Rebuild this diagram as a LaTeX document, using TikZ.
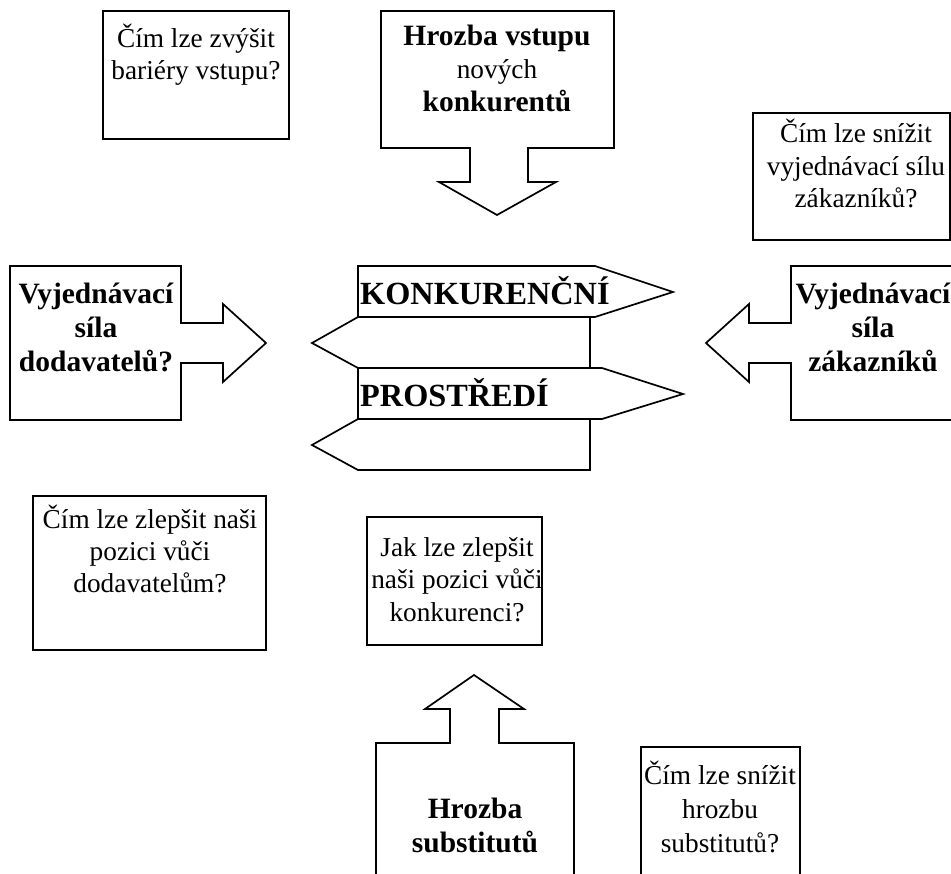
\documentclass[tikz,border=0pt]{standalone}
\usepackage{fontspec}
\setmainfont{Liberation Serif}
\usepackage{tikz}

\begin{document}
\begin{tikzpicture}[x=1pt,y=-1pt,
  box/.style={draw, line width=1.7pt, line join=miter},
  txt/.style={font=\fontsize{27.3}{32.5}\selectfont, align=center, inner sep=0pt, anchor=base},
  btxt/.style={font=\fontsize{29.5}{34}\selectfont\bfseries, align=center, inner sep=0pt, anchor=base},
  sign/.style={font=\fontsize{32.3}{37}\selectfont\bfseries, inner sep=0pt, anchor=base west}]
\useasboundingbox (0,0) rectangle (951,874);
\clip (0,0) rectangle (951,874);

% top row
\draw[box] (103,11) rectangle (289,139);
\node[txt] (bariery) at (196,80) {Čím lze zvýšit\\bariéry vstupu?};
\draw[box] (381,11) -- (614,11) -- (614,148) -- (528,148) -- (528,182) -- (556,182)
  -- (497,215) -- (439,182) -- (470,182) -- (470,148) -- (381,148) -- cycle;
\node[btxt, font=\fontsize{29.5}{33}\selectfont\bfseries] (vstup) at (497,112)
  {Hrozba vstupu\\{\mdseries\fontsize{27.3}{33}\selectfont nových}\\konkurentů};
\draw[box] (753,113) rectangle (950,240);
\node[txt] (zakaznici) at (856,208) {Čím lze snížit\\vyjednávací sílu\\zákazníků?};

% middle row
\draw[box] (10,266) -- (181,266) -- (181,323) -- (223,323) -- (223,304) -- (266,343)
  -- (223,382) -- (223,363) -- (181,363) -- (181,420) -- (10,420) -- cycle;
\node[btxt] (dodavatele) at (96,372) {Vyjednávací\\síla\\dodavatelů?};
\draw[box] (960,266) -- (791,266) -- (791,323) -- (749,323) -- (749,304) -- (706,343)
  -- (749,382) -- (749,363) -- (791,363) -- (791,420) -- (960,420);
\node[btxt] (odberatele) at (873,372) {Vyjednávací\\síla\\zákazníků};

% signpost
\draw[box] (358,266) -- (595,266) -- (673,292) -- (595,317) -- (358,317) -- cycle;
\draw[box] (358,317) -- (312,343) -- (358,368) -- (590,368) -- (590,317);
\draw[box] (358,368) -- (602,368) -- (683,394) -- (602,419) -- (358,419) -- cycle;
\draw[box] (358,419) -- (312,445) -- (358,470) -- (590,470) -- (590,419);
\node[sign] (konk) at (360,305) {KONKURENČNÍ};
\node[sign] (prost) at (360,407) {PROSTŘEDÍ};

% lower row
\draw[box] (33,496) rectangle (266,650);
\node[txt, font=\fontsize{27.3}{32}\selectfont] (pozice) at (150,592)
  {Čím lze zlepšit naši\\pozici vůči\\dodavatelům?};
\draw[box] (367,517) rectangle (542,645);
\node[txt] (konkurence) at (457,621) {Jak lze zlepšit\\naši pozici vůči\\konkurenci?};

% bottom row
\draw[box] (376,880) -- (376,743) -- (450,743) -- (450,709) -- (425,709) -- (474,675)
  -- (524,709) -- (499,709) -- (499,743) -- (574,743) -- (574,880);
\node[btxt] (substituty) at (475,852) {Hrozba\\substitutů};
\draw[box] (641,880) -- (641,747) -- (800,747) -- (800,880);
\node[txt, font=\fontsize{27.3}{34}\selectfont] (hrozbu) at (720,852)
  {Čím lze snížit\\hrozbu\\substitutů?};
\end{tikzpicture}
\end{document}
